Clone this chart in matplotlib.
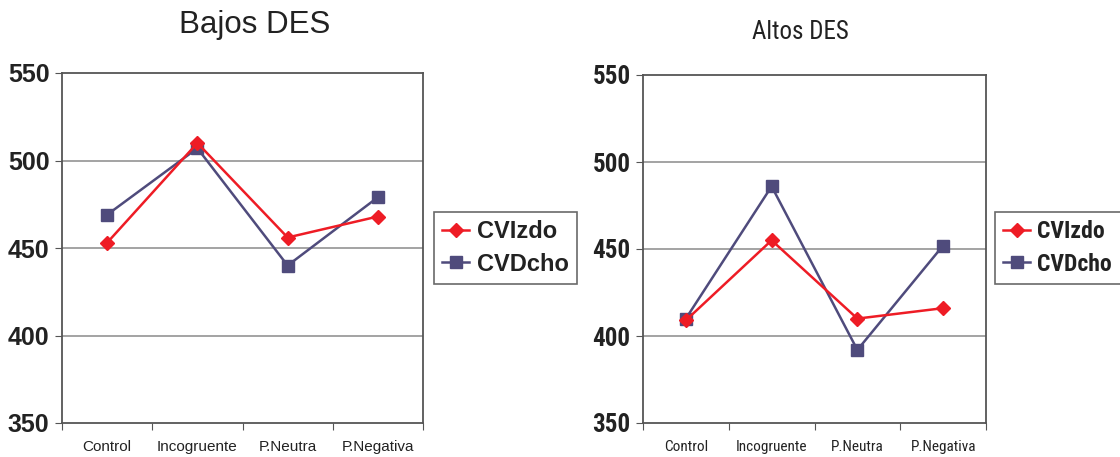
import numpy as np
import matplotlib
matplotlib.use('Agg')
import matplotlib.pyplot as plt

# %%
# data
categories = ['Control', 'Incogruente', 'P.Neutra', 'P.Negativa']
series_names = ['CVIzdo', 'CVDcho']

bajos_izdo = [453, 510, 456, 468]
bajos_dcho = [469, 507, 440, 479]

altos_izdo = [409, 455, 410, 416]
altos_dcho = [410, 486, 392, 452]

yticks = [350, 400, 450, 500, 550]

red = '#EE1C25'
blue = '#4F4B7C'

# %%
fig = plt.figure(figsize=(11.2, 4.57), dpi=100)
fig.patch.set_facecolor('white')

ax1 = fig.add_axes([62/1120, 1-423/457, 361/1120, 350/457])
ax2 = fig.add_axes([643/1120, 1-423/457, 343/1120, 348/457])

def draw_panel(ax, izdo, dcho, family):
    x = np.arange(len(categories)) + 0.5
    ax.plot(x, izdo, color=red, lw=1.8, marker='D', ms=7, mec=red,
            label=series_names[0], zorder=4)
    ax.plot(x, dcho, color=blue, lw=1.8, marker='s', ms=8, mec=blue,
            label=series_names[1], zorder=3)
    ax.set_xlim(0, len(categories))
    ax.set_ylim(350, 550)
    ax.set_yticks(yticks)
    ax.set_yticklabels([str(v) for v in yticks], fontsize=18,
                       fontweight='bold', family=family, color='#222222')
    # category labels sit between the boundary ticks
    ax.set_xticks(np.arange(len(categories) + 1))
    ax.set_xticklabels([])
    ax.set_xticks(x, minor=True)
    ax.set_xticklabels(categories, minor=True, fontsize=11, family=family,
                       color='#222222')
    ax.tick_params(axis='x', which='minor', length=0, pad=12)
    ax.tick_params(axis='x', which='major', length=5, color='#555555',
                   direction='out')
    ax.tick_params(axis='y', length=5, color='#555555', pad=4)
    for y in yticks[1:-1]:
        ax.axhline(y, color='#8a8a8a', lw=1.1, zorder=1)
    for s in ax.spines.values():
        s.set_color('#555555')
        s.set_linewidth(1.3)

narrow = 'Roboto Condensed'
draw_panel(ax1, bajos_izdo, bajos_dcho, 'Liberation Sans')
draw_panel(ax2, altos_izdo, altos_dcho, narrow)

fig.text(255/1120, 1-25/457, 'Bajos DES', ha='center', va='center',
         fontsize=22.5, family='Liberation Sans', color='#222222')
fig.text(800/1120, 1-32/457, 'Altos DES', ha='center', va='center',
         fontsize=18, family=narrow, color='#222222')

# %%
# legends to the right of each panel
for ax, x0, fam in [(ax1, 434, 'Liberation Sans'), (ax2, 995, narrow)]:
    h, l = ax.get_legend_handles_labels()
    leg = fig.legend(h, l, loc='upper left',
                     bbox_to_anchor=(x0/1120, 1-212/457),
                     frameon=True, fancybox=False, borderaxespad=0,
                     borderpad=0.35, handlelength=1.15, handletextpad=0.3,
                     labelspacing=0.4,
                     prop={'family': fam, 'weight': 'bold', 'size': 17})
    leg.get_frame().set_edgecolor('#444444')
    leg.get_frame().set_linewidth(1.2)
    for t in leg.get_texts():
        t.set_color('#222222')

fig.savefig('out.png', dpi=100, facecolor='white')
